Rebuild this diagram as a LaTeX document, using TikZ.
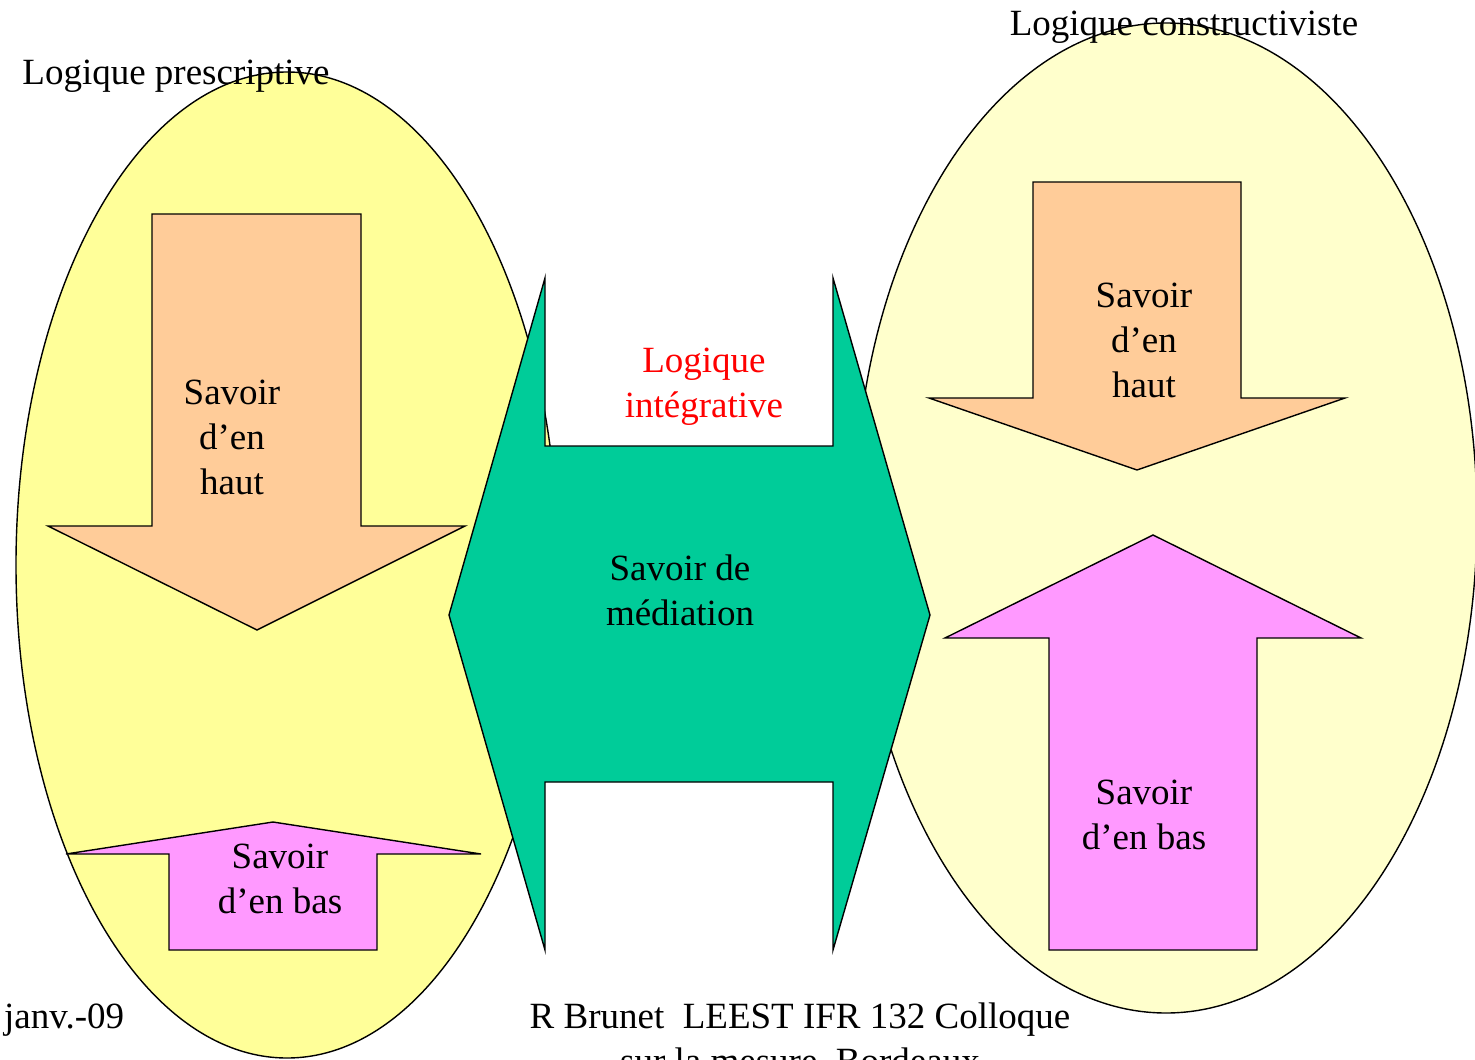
\documentclass[tikz,border=0pt]{standalone}
\usepackage{fontspec}
\setmainfont{Liberation Serif}
\definecolor{ylw}{HTML}{FFFF99}
\definecolor{ylwpale}{HTML}{FFFFCC}
\definecolor{orng}{HTML}{FFCC99}
\definecolor{pnk}{HTML}{FF99FF}
\definecolor{grn}{HTML}{00CC99}
\tikzset{
  shp/.style={draw=black, line width=1.4pt, line join=miter},
  lbl/.style={inner sep=0pt, align=center, anchor=base, font=\fontsize{37}{45}\selectfont},
}
\begin{document}
\begin{tikzpicture}[x=1pt,y=-1pt]
\useasboundingbox (0,0) rectangle (1475,1060);
% ellipses
\draw[shp, fill=ylw] (287,565) ellipse [x radius=271, y radius=493];
\draw[shp, fill=ylwpale] (1166,518) ellipse [x radius=311, y radius=495];
% left down arrow
\draw[shp, fill=orng] (152,214) -- (361,214) -- (361,526) -- (465,526) -- (257,630) -- (48,526) -- (152,526) -- cycle;
% left up arrow
\draw[shp, fill=pnk] (169,950) -- (377,950) -- (377,854) -- (481,854) -- (273,822) -- (66,854) -- (169,854) -- cycle;
% right down arrow
\draw[shp, fill=orng] (1033,182) -- (1241,182) -- (1241,398) -- (1345,398) -- (1137,470) -- (929,398) -- (1033,398) -- cycle;
% right up arrow
\draw[shp, fill=pnk] (1049,950) -- (1257,950) -- (1257,638) -- (1361,638) -- (1153,535) -- (945,638) -- (1049,638) -- cycle;
% green mediation shape
\draw[shp, fill=grn] (545,278) -- (545,446) -- (833,446) -- (833,278) -- (930,615) -- (833,950) -- (833,782) -- (545,782) -- (545,950) -- (449,615) -- cycle;
% texts (anchor = baseline of the last line)
\node[lbl] (tp) at (176,84) {Logique prescriptive};
\node[lbl] (tc) at (1184,35) {Logique constructiviste};
\node[lbl] (lh) at (232,494) {Savoir\\d’en\\haut};
\node[lbl] (lb) at (280,913) {Savoir\\d’en bas};
\node[lbl] (rh) at (1144,397) {Savoir\\d’en\\haut};
\node[lbl] (rb) at (1144,849) {Savoir\\d’en bas};
\node[lbl, text=red] (li) at (704,417) {Logique\\intégrative};
\node[lbl] (sm) at (680,625) {Savoir de\\médiation};
\node[lbl, anchor=base west] (dt) at (4,1028) {janv.-09};
\node[lbl] (ft) at (800,1073) {R Brunet\ \ LEEST IFR 132 Colloque\\sur la mesure, Bordeaux};
\end{tikzpicture}
\end{document}
